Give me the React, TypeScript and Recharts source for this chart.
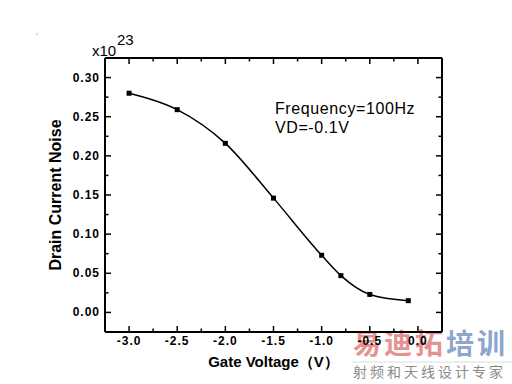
import { LineChart, Line, XAxis, YAxis, Label } from 'recharts';

// Gate voltage sweep (V) and drain current noise (x10^23)
const gateVoltage = [-3.0, -2.5, -2.0, -1.5, -1.0, -0.8, -0.5, -0.1];
const drainNoise = [0.28, 0.259, 0.216, 0.146, 0.073, 0.047, 0.023, 0.015];

const xMajorTicks = [-3, -2.5, -2, -1.5, -1, -0.5, 0];
const xMinorTicks = [-2.75, -2.25, -1.75, -1.25, -0.75, -0.25];
const yMajorTicks = [0, 0.05, 0.1, 0.15, 0.2, 0.25, 0.3];
const yMinorTicks = [0.025, 0.075, 0.125, 0.175, 0.225, 0.275];

const xDomain = [-3.25, 0.25];
const yDomain = [-0.025, 0.325];

const data = gateVoltage.map((v, i) => ({ v, noise: drainNoise[i] }));
const xTicks = [...xMajorTicks, ...xMinorTicks].sort((a, b) => a - b);
const yTicks = [...yMajorTicks, ...yMinorTicks].sort((a, b) => a - b);

const FONT = '"Liberation Sans", Arial, sans-serif';
const CJK = '"Noto Sans CJK SC", sans-serif';
const MAJOR = 6;
const MINOR = 3.5;

const tickFont = { fontFamily: FONT, fontSize: 12, fontWeight: 700, letterSpacing: 1, fill: '#000' };
const isMajor = (list: number[], v: number) => list.some((t) => Math.abs(t - v) < 1e-9);

function BottomTick({ x, y, payload }: any) {
  const major = isMajor(xMajorTicks, payload.value);
  return (
    <g>
      <line x1={x} x2={x} y1={y} y2={y - (major ? MAJOR : MINOR)} stroke="#000" strokeWidth={1.5} />
      {major && (
        <text x={x} y={y + 13} textAnchor="middle" style={tickFont}>
          {payload.value.toFixed(1)}
        </text>
      )}
    </g>
  );
}

function TopTick({ x, y, payload }: any) {
  const major = isMajor(xMajorTicks, payload.value);
  return <line x1={x} x2={x} y1={y} y2={y + (major ? MAJOR : MINOR)} stroke="#000" strokeWidth={1.5} />;
}

function LeftTick({ x, y, payload }: any) {
  const major = isMajor(yMajorTicks, payload.value);
  return (
    <g>
      <line x1={x} x2={x + (major ? MAJOR : MINOR)} y1={y} y2={y} stroke="#000" strokeWidth={1.5} />
      {major && (
        <text x={x - 5} y={y + 4} textAnchor="end" style={tickFont}>
          {payload.value.toFixed(2)}
        </text>
      )}
    </g>
  );
}

function RightTick({ x, y, payload }: any) {
  const major = isMajor(yMajorTicks, payload.value);
  return <line x1={x} x2={x - (major ? MAJOR : MINOR)} y1={y} y2={y} stroke="#000" strokeWidth={1.5} />;
}

function SquareDot({ cx, cy }: any) {
  if (cx == null || cy == null) return null;
  return <rect x={cx - 2.5} y={cy - 2.5} width={5} height={5} fill="#000" />;
}

export default function App() {
  return (
    <div style={{ position: 'absolute', left: 0, top: 0, width: 512, height: 384 }}>
      <svg width={512} height={384} style={{ position: 'absolute', left: 0, top: 0 }}>
        <circle cx={37} cy={34} r={0.8} fill="#aaa" />
        <text x={92} y={56} style={{ fontFamily: FONT, fontSize: 15 }}>x10</text>
        <text x={117} y={45} style={{ fontFamily: FONT, fontSize: 15 }}>23</text>
        <text x={275} y={114} style={{ fontFamily: FONT, fontSize: 16, letterSpacing: 0.6 }}>Frequency=100Hz</text>
        <text x={275} y={133} style={{ fontFamily: FONT, fontSize: 16, letterSpacing: 0.6 }}>VD=-0.1V</text>
        <text x={353} y={354} style={{ fontFamily: CJK, fontSize: 28, fontWeight: 700, letterSpacing: 3 }}>
          <tspan fill="#e79292">易迪拓</tspan>
          <tspan fill="#8ca6cc">培训</tspan>
        </text>
        <line x1={352} x2={512} y1={362} y2={362} stroke="#dcdcdc" strokeWidth={1} />
        <text x={353} y={377} fill="#8a8a8a" style={{ fontFamily: CJK, fontSize: 14, letterSpacing: 3 }}>
          射频和天线设计专家
        </text>
      </svg>
      <div style={{ position: 'absolute', left: 0, top: 0 }}>
        <LineChart width={512} height={384} data={data} margin={{ top: 57, right: 69, bottom: 0, left: 0 }}>
          <XAxis
            xAxisId="bottom"
            dataKey="v"
            type="number"
            domain={xDomain}
            allowDataOverflow
            ticks={xTicks}
            interval={0}
            height={52}
            tickSize={0}
            tickMargin={0}
            stroke="#000"
            axisLine={{ stroke: '#000', strokeWidth: 2 }}
            tick={<BottomTick />}
            label={{
              value: 'Gate Voltage（V）',
              position: 'insideBottom',
              offset: 17,
              fill: '#000',
              style: { fontFamily: FONT, fontSize: 15, fontWeight: 700 },
            }}
          />
          <XAxis
            xAxisId="top"
            dataKey="v"
            type="number"
            orientation="top"
            domain={xDomain}
            allowDataOverflow
            ticks={xTicks}
            interval={0}
            height={1}
            tickSize={0}
            tickMargin={0}
            stroke="#000"
            axisLine={{ stroke: '#000', strokeWidth: 2 }}
            tick={<TopTick />}
          />
          <YAxis
            yAxisId="left"
            type="number"
            domain={yDomain}
            allowDataOverflow
            ticks={yTicks}
            interval={0}
            width={105}
            tickSize={0}
            tickMargin={0}
            stroke="#000"
            axisLine={{ stroke: '#000', strokeWidth: 2 }}
            tick={<LeftTick />}
            label={{
              value: 'Drain Current Noise',
              angle: -90,
              position: 'insideLeft',
              offset: 55,
              fill: '#000',
              style: { fontFamily: FONT, fontSize: 16, fontWeight: 700, textAnchor: 'middle' },
            }}
          />
          <YAxis
            yAxisId="right"
            type="number"
            orientation="right"
            domain={yDomain}
            allowDataOverflow
            ticks={yTicks}
            interval={0}
            width={1}
            tickSize={0}
            tickMargin={0}
            stroke="#000"
            axisLine={{ stroke: '#000', strokeWidth: 2 }}
            tick={<RightTick />}
          />
          <Line
            xAxisId="bottom"
            yAxisId="left"
            dataKey="noise"
            type="monotone"
            stroke="#000"
            strokeWidth={1.5}
            dot={<SquareDot />}
            activeDot={false}
            isAnimationActive={false}
          />
        </LineChart>
      </div>
    </div>
  );
}
